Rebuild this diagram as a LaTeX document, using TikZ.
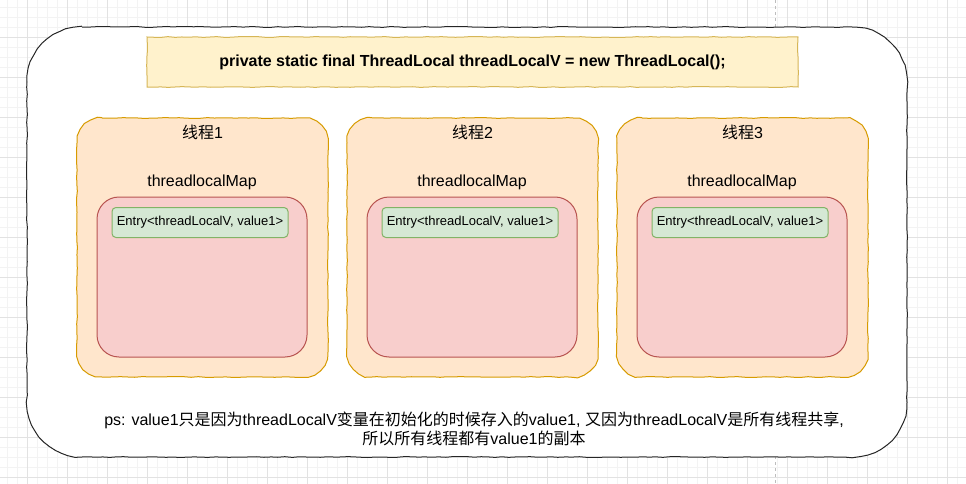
\documentclass[tikz,border=0pt]{standalone}
\usepackage{fontspec}
\setmainfont{Liberation Sans}
\newfontfamily\cjk{Noto Sans CJK SC}
\usetikzlibrary{decorations.pathmorphing, calc}

\definecolor{gridminor}{HTML}{F3F3F3}
\definecolor{gridmajor}{HTML}{E2E2E2}
\definecolor{pagebreak}{HTML}{BDBDBD}
\definecolor{declfill}{HTML}{FFF2CC}
\definecolor{declline}{HTML}{D6B656}
\definecolor{threadfill}{HTML}{FFE6CC}
\definecolor{threadline}{HTML}{D79B00}
\definecolor{mapfill}{HTML}{F8CECC}
\definecolor{mapline}{HTML}{B85450}
\definecolor{entryfill}{HTML}{D5E8D4}
\definecolor{entryline}{HTML}{82B366}

% wavy rounded outline round a placeholder node: node, radius, style
\newcommand\roughround[3]{%
    \filldraw[#3] ($(#1.north west)+(#2,0)$) -- ($(#1.north east)+(-#2,0)$)
        arc[start angle=-90, end angle=0, radius=#2] -- ($(#1.south east)+(0,-#2)$)
        arc[start angle=0, end angle=90, radius=#2] -- ($(#1.south west)+(#2,0)$)
        arc[start angle=90, end angle=180, radius=#2] -- ($(#1.north west)+(0,#2)$)
        arc[start angle=180, end angle=270, radius=#2] -- cycle;}

\begin{document}
\begin{tikzpicture}[x=1pt, y=-1pt,
        sketch/.style={decorate, decoration={random steps, amplitude=0.4pt, segment length=7pt}},
        place/.style={inner sep=0pt, outer sep=0pt},
        outerline/.style={sketch, draw=black!85, fill=white, line width=1pt},
        threadline/.style={sketch, draw=threadline, fill=threadfill, line width=1pt},
        declbox/.style={place, font=\bfseries\fontsize{16pt}{19pt}\selectfont},
        mapbox/.style={draw=mapline, fill=mapfill, line width=1pt, rounded corners=22pt,
            inner sep=0pt, minimum width=210pt, minimum height=160pt},
        entrybox/.style={draw=entryline, fill=entryfill, line width=1pt, rounded corners=4pt,
            inner sep=0pt, minimum width=176pt, minimum height=30pt, font=\fontsize{13pt}{15pt}\selectfont},
        lbl/.style={inner sep=0pt, font=\fontsize{16pt}{19pt}\selectfont}]

    \useasboundingbox (0,0) rectangle (966,484);

    \foreach \k in {0,...,95}
        \draw[gridminor, line width=0.8pt] (7.5+10*\k,0) -- (7.5+10*\k,484);
    \foreach \k in {0,...,47}
        \draw[gridminor, line width=0.8pt] (0,7+10*\k) -- (966,7+10*\k);
    \foreach \k in {0,...,23}
        \draw[gridmajor, line width=0.8pt] (27.5+40*\k,0) -- (27.5+40*\k,484);
    \foreach \k in {0,...,11}
        \draw[gridmajor, line width=0.8pt] (0,37+40*\k) -- (966,37+40*\k);
    \draw[pagebreak, dash pattern=on 3pt off 3pt, line width=0.8pt] (775,0) -- (775,484);

    \node[place, minimum width=880pt, minimum height=430pt] (outer) at (467,242) {};
    \roughround{outer}{55}{outerline}

    \node[place, minimum width=651pt, minimum height=50pt] (declarea) at (472.5,62) {};
    \filldraw[sketch, draw=declline, fill=declfill, line width=1pt] (declarea.north west) rectangle (declarea.south east);
    \node[declbox] (decl) at (declarea) {private static final ThreadLocal threadLocalV = new ThreadLocal();};

    \foreach \i [evaluate=\i as \cx using 202.5+270*(\i-1)] in {1,2,3} {
        \node[place, minimum width=251pt, minimum height=259pt] (thread\i) at (\cx,247.5) {};
        \roughround{thread\i}{25}{threadline}
        \node[lbl] (name\i) at ($(thread\i.north)+(0,14)$) {{\cjk 线程}\i};
        \node[mapbox] (map\i) at (\cx-0.5,277) {};
        \node[lbl] (mapname\i) at ($(map\i.north)+(0,-14)$) {threadlocalMap};
        \node[entrybox] (entry\i) at ($(map\i.north)+(-2,26)$) {Entry<threadLocalV, value1>};
    }

    \node[lbl, align=center] (note) at (474,429)
        {ps: value1{\cjk 只是因为}threadLocalV{\cjk 变量在初始化的时候存入的}value1, {\cjk 又因为}threadLocalV{\cjk 是所有线程共享},\\
         {\cjk 所以所有线程都有}value1{\cjk 的副本}};

\end{tikzpicture}
\end{document}
